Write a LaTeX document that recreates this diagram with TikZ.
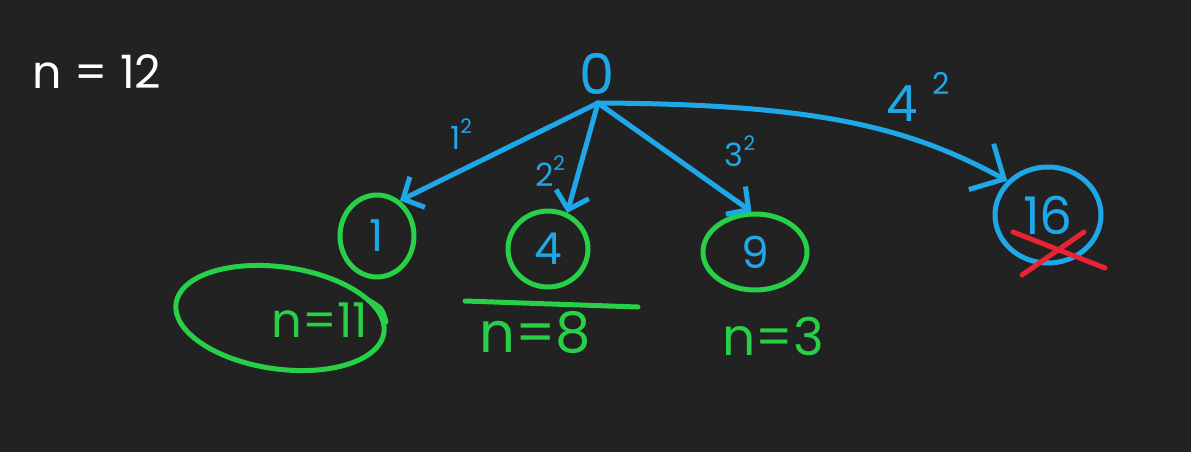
\documentclass[tikz,border=0pt]{standalone}
\usepackage{fontspec}
\setmainfont{Poppins}
\usetikzlibrary{shapes.geometric,arrows.meta}
\definecolor{bg}{RGB}{34,34,34}
\definecolor{skyb}{RGB}{30,168,232}
\definecolor{grn}{RGB}{40,208,72}
\definecolor{redx}{RGB}{232,36,52}
\newcommand{\hsup}[2]{#1\raisebox{0.5em}{\fontsize{#2}{#2}\selectfont 2}}
\begin{document}
\begin{tikzpicture}[x=1pt,y=-1pt,
  pen/.style={line width=5pt, line cap=round, line join=round},
  arr/.style={pen, skyb, -{Straight Barb[length=16pt,width=34pt]}},
  bigarr/.style={pen, skyb, -{Straight Barb[length=26pt,width=52pt]}},
  circ/.style={ellipse, draw=grn, pen, inner sep=0pt, text=skyb, font=\fontsize{44}{44}\selectfont},
  lbl/.style={skyb, inner sep=0pt, font=\fontsize{32}{32}\selectfont},
  ntext/.style={grn, inner sep=0pt}
]
\useasboundingbox (0,0) rectangle (1191,452);
\fill[bg] (0,0) rectangle (1191,452);

\node[white, inner sep=0pt, font=\fontsize{46}{46}\selectfont] (title) at (97,72) {n = 12};

\node[skyb, inner sep=0pt, font=\fontsize{56}{56}\selectfont] (root) at (597,74) {0};
\coordinate (hub) at (598,103);

\node[circ, minimum width=74pt, minimum height=82pt] (n1) at (377,236) {1};
\node[circ, minimum width=80pt, minimum height=76pt] (n4) at (548,249) {4};
\node[circ, minimum width=104pt, minimum height=76pt] (n9) at (755,252) {9};
\node[circ, draw=skyb, minimum width=106pt, minimum height=96pt, font=\fontsize{52}{52}\selectfont] (n16) at (1048,215) {16};

\draw[arr] (hub) -- (n1.57);
\draw[arr] (hub) -- (n4.62);
\draw[arr] (hub) -- (n9.95);
\draw[bigarr] (hub) .. controls (820,104) and (910,128) .. (n16.140);

\node[lbl] (l1) at (461,134) {\hsup{1}{20}};
\node[lbl] (l2) at (550,171) {\hsup{2}{20}};
\node[lbl] (l3) at (740,151) {\hsup{3}{20}};
\node[lbl, font=\fontsize{50}{50}\selectfont] (l4) at (918,97) {4\hspace{0.3em}\raisebox{0.55em}{\fontsize{30}{30}\selectfont 2}};

\draw[pen, redx] (1013,232) -- (1105,268);
\draw[pen, redx] (1022,275) -- (1084,232);

\node[ntext, font=\fontsize{48}{48}\selectfont] (t11) at (320,320) {n=11};
\node[ellipse, draw=grn, pen, minimum width=210pt, minimum height=102pt, rotate=-8] (e11) at (280,318) {};
\draw[pen, grn] (368,300) .. controls (382,308) .. (386,322);

\draw[pen, grn] (465,301) -- (638,307);
\node[ntext, font=\fontsize{56}{56}\selectfont] (t8) at (535,333) {n=8};
\node[ntext, font=\fontsize{52}{52}\selectfont] (t3) at (773,336) {n=3};
\end{tikzpicture}
\end{document}
